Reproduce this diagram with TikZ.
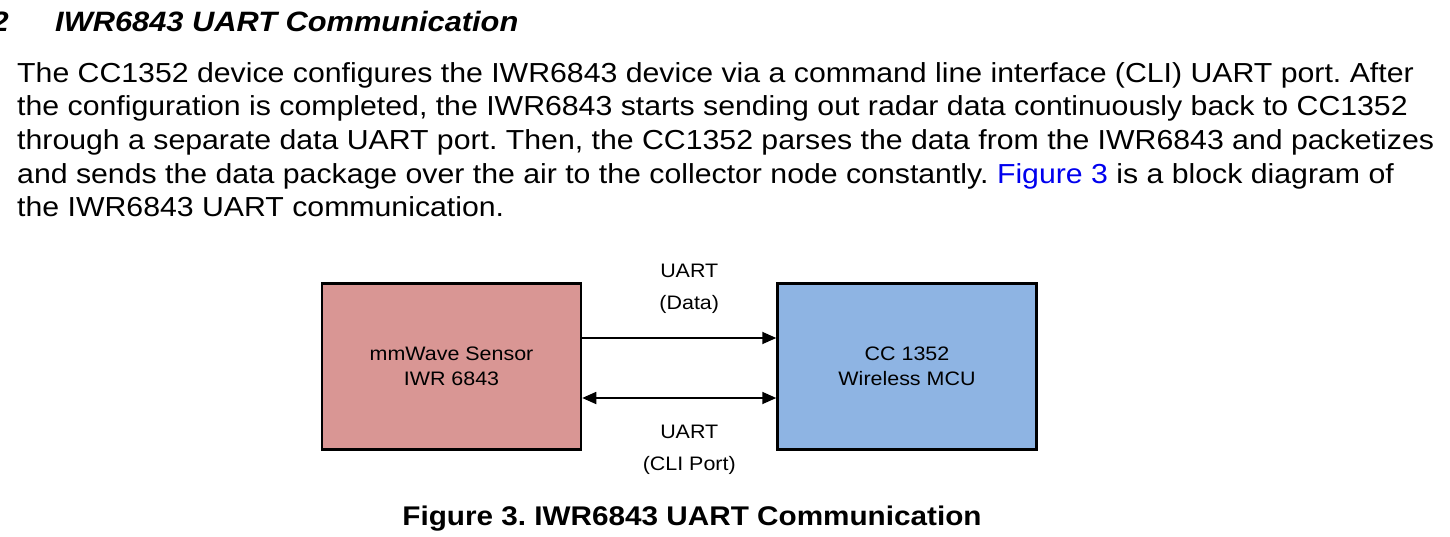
\documentclass[tikz,border=0pt]{standalone}
\usepackage{xcolor}
\usepackage{fontspec}
\setmainfont[FakeStretch=1.1]{Liberation Sans}
\usepackage{tikz}
\usetikzlibrary{positioning,arrows.meta}

\definecolor{sensorred}{HTML}{D99694}
\definecolor{mcublue}{HTML}{8EB4E3}
\definecolor{linkblue}{HTML}{0000EE}
\frenchspacing

\begin{document}
\begin{tikzpicture}[x=1pt, y=-1pt, every node/.style={inner sep=0pt}, block/.style={draw=black, line width=2.5pt, minimum width=259pt, minimum height=166pt, align=center, font=\fontsize{19.5}{25}\selectfont}, lbl/.style={align=center, font=\fontsize{19.5}{32}\selectfont}, link/.style={line width=1.8pt}]
\useasboundingbox (0,0) rectangle (1450,537);
% heading and text above the figure
\node[anchor=base east, font=\fontsize{28}{30}\selectfont\bfseries\itshape] (secnum) at (9,32) {2};
\node[anchor=base west, font=\fontsize{28}{30}\selectfont\bfseries\itshape] (title) at (55,32) {IWR6843 UART Communication};
\node[anchor=north west, align=left, font=\fontsize{27.5}{33.7}\selectfont] (body) at (17,62) {The CC1352 device configures the IWR6843 device via a command line interface (CLI) UART port. After\\the configuration is completed, the IWR6843 starts sending out radar data continuously back to CC1352\\through a separate data UART port. Then, the CC1352 parses the data from the IWR6843 and packetizes\\and sends the data package over the air to the collector node constantly. \textcolor{linkblue}{Figure 3} is a block diagram of\\the IWR6843 UART communication.};
% the two blocks
\node[block, fill=sensorred] (sensor) at (451.5,366.5) {mmWave Sensor\\IWR 6843};
\node[block, fill=mcublue] (mcu) at (907,366.5) {CC 1352\\Wireless MCU};
\draw[link, -{Triangle[length=14pt,width=12pt]}] ([yshift=28.5pt]sensor.east) -- ([yshift=28.5pt]mcu.west) node[lbl, midway, above=24pt, xshift=10pt] (datalbl) {UART\\(Data)};
\draw[link, {Triangle[length=14pt,width=12pt]}-{Triangle[length=14pt,width=12pt]}] ([yshift=-31.5pt]sensor.east) -- ([yshift=-31.5pt]mcu.west) node[lbl, midway, below=26pt, xshift=10pt] (clilbl) {UART\\(CLI Port)};
% caption
\node[anchor=base, font=\fontsize{27}{28}\selectfont\bfseries] (caption) at (692,525) {Figure 3. IWR6843 UART Communication};
\end{tikzpicture}
\end{document}
